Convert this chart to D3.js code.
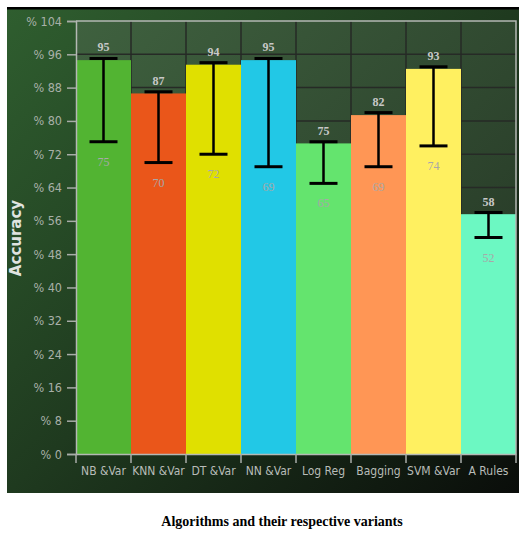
<!DOCTYPE html>
<html><head><meta charset="utf-8">
<script src="https://cdn.jsdelivr.net/npm/d3@7"></script>
<style>body{margin:0;background:#fff;}svg{display:block;}</style>
</head><body>
<svg id="chart" width="520" height="534"></svg>
<script>
const categories = ["NB &Var","KNN &Var","DT &Var","NN &Var","Log Reg","Bagging","SVM &Var","A Rules"];
const barValues = [94.6, 86.6, 93.5, 94.6, 74.6, 81.4, 92.5, 57.6];
const errHigh = [95, 87, 94, 95, 75, 82, 93, 58];
const errLow = [75, 70, 72, 69, 65, 69, 74, 52];
const barColors = ["#52b432","#ea561a","#e0e000","#22c8e6","#64e46e","#ff9655","#fff060","#6cf8c2"];
const yTicks = [0,8,16,24,32,40,48,56,64,72,80,88,96,104];

const svg = d3.select("#chart");
const defs = svg.append("defs");
const g1 = defs.append("linearGradient").attr("id","outer").attr("x1","0").attr("y1","0").attr("x2","1").attr("y2","1");
g1.append("stop").attr("offset","0").attr("stop-color","#2f5e2f");
g1.append("stop").attr("offset","0.5").attr("stop-color","#1f3a1f");
g1.append("stop").attr("offset","1").attr("stop-color","#0a0d0a");
const g2 = defs.append("linearGradient").attr("id","inner").attr("x1","0").attr("y1","0").attr("x2","1").attr("y2","1");
g2.append("stop").attr("offset","0").attr("stop-color","#3f613f");
g2.append("stop").attr("offset","1").attr("stop-color","#223222");

const L = 76, R = 516, T = 21, B = 454;
svg.append("rect").attr("x",7).attr("y",7).attr("width",512).attr("height",486).attr("fill","url(#outer)");
svg.append("rect").attr("x",7).attr("y",7).attr("width",512).attr("height",2.5).attr("fill","#000");

const x = d3.scaleBand().domain(categories).range([L,R]).padding(0);
const y = d3.scaleLinear().domain([0,104]).range([B,T]);

svg.append("rect").attr("x",L).attr("y",T).attr("width",R-L).attr("height",B-T).attr("fill","url(#inner)");

const grid = svg.append("g");
grid.selectAll("line.h").data(yTicks.slice(1,-1)).join("line")
  .attr("x1",L).attr("x2",R).attr("y1",d=>y(d)).attr("y2",d=>y(d))
  .attr("stroke","#262a26").attr("stroke-width",1.5);
grid.selectAll("line.v").data(categories.slice(1)).join("line")
  .attr("x1",d=>x(d)).attr("x2",d=>x(d)).attr("y1",T).attr("y2",B)
  .attr("stroke","#262a26").attr("stroke-width",1.5);

svg.append("g").selectAll("rect").data(categories).join("rect")
  .attr("x",d=>x(d)).attr("width",x.bandwidth())
  .attr("y",(d,i)=>y(barValues[i])).attr("height",(d,i)=>B-y(barValues[i]))
  .attr("fill",(d,i)=>barColors[i]);

svg.append("path").attr("d",`M${L},${T}H${R}V${B}`).attr("fill","none").attr("stroke","#b4b8b4").attr("stroke-width",1.5);

const eb = svg.append("g");
categories.forEach((c,i)=>{
  const cx = x(c)+x.bandwidth()/2;
  eb.append("line").attr("x1",cx).attr("x2",cx).attr("y1",y(errHigh[i])).attr("y2",y(errLow[i])).attr("stroke","#000").attr("stroke-width",2.5);
  [errHigh[i],errLow[i]].forEach(v=>{
    eb.append("line").attr("x1",cx-14).attr("x2",cx+14).attr("y1",y(v)).attr("y2",y(v)).attr("stroke","#000").attr("stroke-width",3);
  });
  eb.append("text").attr("x",cx).attr("y",y(errHigh[i])-7).attr("text-anchor","middle")
    .attr("font-family","Liberation Serif").attr("font-weight","bold").attr("font-size",12).attr("fill","#c8c8c8").text(errHigh[i]);
  eb.append("text").attr("x",cx).attr("y",y(errLow[i])+24).attr("text-anchor","middle")
    .attr("font-family","Liberation Serif").attr("font-size",12).attr("fill","#a8a8a8").text(errLow[i]);
});

const yAxis = svg.append("g").attr("transform",`translate(${L},0)`)
  .call(d3.axisLeft(y).tickValues(yTicks).tickFormat(d=>"% "+d).tickSize(9).tickPadding(5));
yAxis.select(".domain").attr("stroke","#b4b8b4").attr("stroke-width",1.5);
yAxis.selectAll(".tick line").attr("stroke","#a8aca8").attr("stroke-width",1.5);
yAxis.selectAll(".tick text").attr("font-family","DejaVu Sans Condensed").attr("font-size",12.5).attr("fill","#a8b0a8");

const xAxis = svg.append("g").attr("transform",`translate(0,${B})`)
  .call(d3.axisBottom(x).tickSize(0).tickPadding(12));
xAxis.select(".domain").attr("stroke","#b4b8b4").attr("stroke-width",1.5);
xAxis.selectAll(".tick text").attr("font-family","DejaVu Sans Condensed").attr("font-size",12).attr("fill","#b8bcb8");
xAxis.selectAll("line.sep").data(categories.map(c=>x(c)).concat([R])).join("line").attr("class","sep")
  .attr("x1",d=>d).attr("x2",d=>d).attr("y1",0).attr("y2",9).attr("stroke","#a8aca8").attr("stroke-width",1.5);

svg.append("text").attr("transform","translate(21,238) rotate(-90)").attr("text-anchor","middle")
  .attr("font-family","DejaVu Sans").attr("font-weight","bold").attr("font-size",15).attr("fill","#e0e4e0").text("Accuracy");

svg.append("text").attr("x",282).attr("y",526).attr("text-anchor","middle")
  .attr("font-family","Liberation Serif").attr("font-weight","bold").attr("font-size",14).attr("fill","#000")
  .text("Algorithms and their respective variants");
</script>
</body></html>
